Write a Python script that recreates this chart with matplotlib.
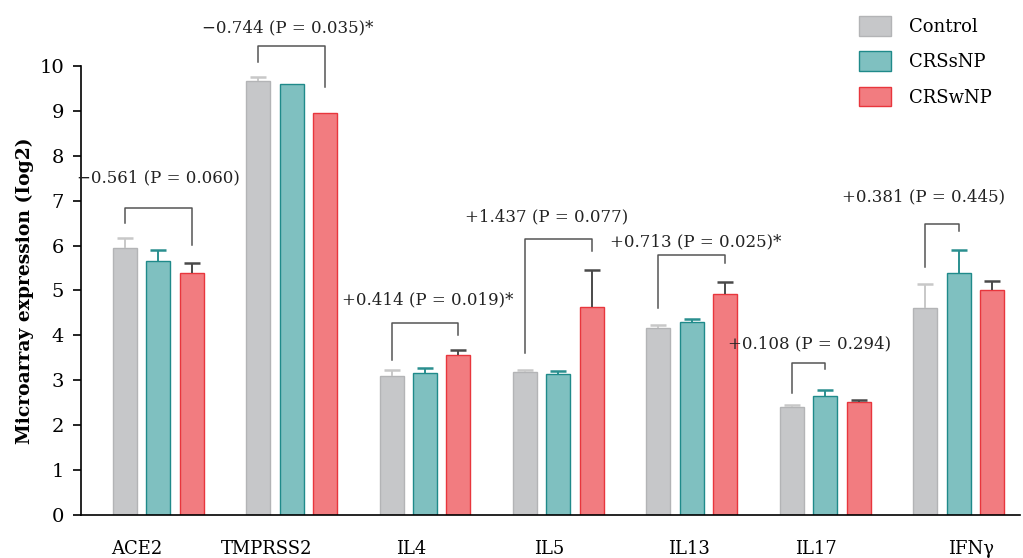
import numpy as np
import matplotlib.pyplot as plt
from matplotlib.patches import Patch

genes = ["ACE2", "TMPRSS2", "IL4", "IL5", "IL13", "IL17", "IFN\u03b3"]
groups = ["Control", "CRSsNP", "CRSwNP"]

control = [5.95, 9.67, 3.10, 3.18, 4.17, 2.40, 4.60]
control_err = [0.22, 0.09, 0.13, 0.05, 0.05, 0.04, 0.54]
crssnp = [5.65, 9.59, 3.17, 3.15, 4.29, 2.64, 5.39]
crssnp_err = [0.25, 0.0, 0.11, 0.06, 0.08, 0.14, 0.51]
crswnp = [5.38, 8.96, 3.57, 4.63, 4.91, 2.51, 5.02]
crswnp_err = [0.22, 0.0, 0.11, 0.82, 0.28, 0.06, 0.19]

# comparison brackets (control vs. the group in bracket_to)
labels = ["\u22120.561 (P = 0.060)", "\u22120.744 (P = 0.035)*", "+0.414 (P = 0.019)*",
          "+1.437 (P = 0.077)", "+0.713 (P = 0.025)*", "+0.108 (P = 0.294)",
          "+0.381 (P = 0.445)"]
bracket_to = [2, 2, 2, 2, 2, 1, 1]
bracket_y = [6.84, 10.44, 4.27, 6.15, 5.79, 3.38, 6.49]
left_end = [6.51, 10.08, 3.45, 3.60, 4.60, 2.71, 5.53]
right_end = [6.01, 9.53, 4.00, 5.88, 5.60, 3.24, 6.32]
label_y = [7.50, 10.84, 4.79, 6.64, 6.08, 3.81, 7.08]
label_dx = [0.0, -0.03, 0.02, -0.09, 0.03, 0.01, -0.14]
# x tick labels are not centred under the groups in the original
tick_dx = [-0.16, -0.19, -0.10, -0.07, -0.02, -0.07, 0.09]

fills = ["#c6c7c9", "#7fc0c0", "#f27c80"]
edges = ["#b3b4b6", "#1f8a8a", "#e8363d"]
err_colors = ["#c8c8c8", "#2a8f8f", "#4a4a4a"]

plt.rcParams["font.family"] = ["DejaVu Serif"]

fig = plt.figure(figsize=(10.23, 5.58), dpi=100)
ax = fig.add_axes([0.079, 0.077, 0.918, 0.805])

x = np.arange(len(genes))
w = 0.18
off = 0.25
cap = 0.06
series = [(control, control_err), (crssnp, crssnp_err), (crswnp, crswnp_err)]
for i, (vals, errs) in enumerate(series):
    pos = x + (i - 1) * off
    vals = np.array(vals)
    e = np.array(errs)
    ax.bar(pos, vals, width=w, color=fills[i], edgecolor=edges[i], linewidth=1.0, zorder=2)
    m = e > 0
    ax.vlines(pos[m], vals[m], vals[m] + e[m], color=err_colors[i], lw=1.4, zorder=3)
    ax.hlines(vals[m] + e[m], pos[m] - cap, pos[m] + cap, color=err_colors[i], lw=1.8, zorder=3)

for g in range(len(genes)):
    x0 = x[g] - off
    x1 = x[g] + (bracket_to[g] - 1) * off
    ax.plot([x0, x0, x1, x1], [left_end[g], bracket_y[g], bracket_y[g], right_end[g]],
            color="#555555", lw=1.1, clip_on=False, zorder=4)
    ax.text((x0 + x1) / 2 + label_dx[g], label_y[g], labels[g], ha="center", va="center",
            fontsize=12, color="#222222", clip_on=False)

ax.set_xlim(-0.58, 6.46)
ax.set_ylim(0, 10)
ax.set_yticks(range(0, 11))
ax.set_xticks(x + np.array(tick_dx))
ax.set_xticklabels(genes, fontsize=13)
ax.tick_params(axis="x", length=0, pad=18)
ax.tick_params(axis="y", labelsize=14, length=6, width=1.2, pad=6)
ax.spines["top"].set_visible(False)
ax.spines["right"].set_visible(False)
ax.spines["left"].set_linewidth(1.2)
ax.spines["bottom"].set_linewidth(1.2)
ax.set_ylabel("Microarray expression (Iog2)", fontsize=13.5, fontweight="bold", labelpad=4)

handles = [Patch(facecolor=fills[i], edgecolor=edges[i], label=groups[i]) for i in range(3)]
fig.legend(handles=handles, loc="upper right", bbox_to_anchor=(0.985, 1.0), frameon=False,
           fontsize=13, handlelength=1.75, handleheight=1.3, labelspacing=0.85, handletextpad=1.0)

fig.savefig("out.png", dpi=100)
